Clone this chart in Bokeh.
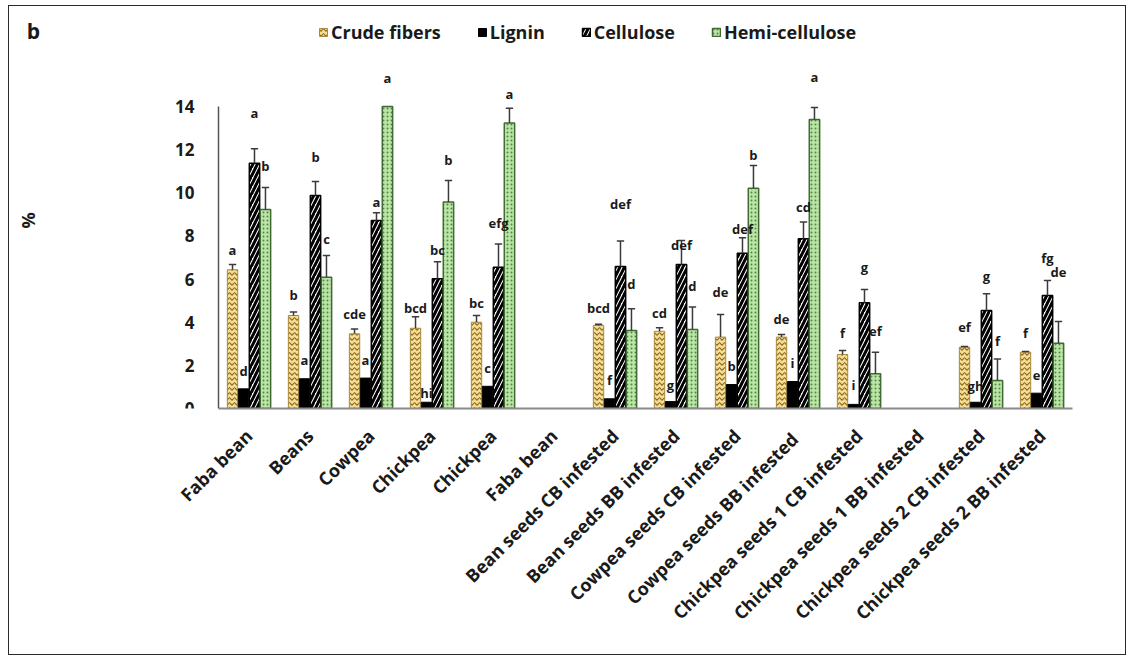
import math

from bokeh.plotting import figure
from bokeh.models import (ColumnDataSource, Range1d, FixedTicker, LabelSet, Label,
                          Legend, LegendItem)
from bokeh.core.properties import value
from bokeh.embed import file_html
from bokeh.resources import INLINE

# ---- data -----------------------------------------------------------------
categories = [
    "Faba bean", "Beans", "Cowpea", "Chickpea", "Chickpea", "Faba bean",
    "Bean seeds CB infested", "Bean seeds BB infested",
    "Cowpea seeds CB infested", "Cowpea  seeds BB infested",
    "Chickpea seeds 1 CB infested", "Chickpea seeds 1 BB infested",
    "Chickpea seeds 2 CB infested", "Chickpea seeds 2 BB infested",
]

crude_fibers = [6.43, 4.31, 3.46, 3.72, 4.00, None, 3.85, 3.58, 3.31, 3.31, 2.50, None, 2.84, 2.61]
crude_err    = [0.24, 0.16, 0.23, 0.53, 0.31, None, 0.05, 0.16, 1.05, 0.12, 0.19, None, 0.03, 0.03]

lignin       = [0.91, 1.38, 1.41, 0.29, 1.03, None, 0.45, 0.32, 1.11, 1.25, 0.19, None, 0.29, 0.71]

cellulose    = [11.37, 9.87, 8.72, 6.01, 6.55, None, 6.58, 6.68, 7.20, 7.87, 4.90, None, 4.54, 5.24]
cell_err     = [0.67, 0.65, 0.35, 0.79, 1.08, None, 1.18, 1.11, 0.71, 0.77, 0.62, None, 0.78, 0.69]

hemicellulose = [9.22, 6.09, 14.60, 9.57, 13.23, None, 3.62, 3.66, 10.21, 13.40, 1.61, None, 1.30, 3.03]
hemi_err      = [1.03, 1.00, 0.70, 1.00, 0.69, None, 1.00, 1.04, 1.06, 0.55, 1.00, None, 1.00, 1.00]

# significance letters (Duncan groups)
crude_letters  = ["a", "b", "cde", "bcd", "bc", None, "bcd", "cd", "de", "de", "f", None, "ef", "f"]
lignin_letters = ["d", "a", "a", "hi", "c", None, "f", "g", "b", "i", "i", None, "gh", "e"]
cell_letters   = ["a", "b", "a", "bc", "efg", None, "def", "def", "def", "cd", "g", None, "g", "fg"]
hemi_letters   = ["b", "c", "a", "b", "a", None, "d", "d", "b", "a", "ef", None, "f", "de"]

# heights (in %) at which the letters are written
crude_letter_y  = [7.37, 5.24, 4.40, 4.64, 4.91, None, 4.68, 4.45, 5.42, 4.17, 3.48, None, 3.76, 3.52]
lignin_letter_y = [1.76, 2.27, 2.27, 0.70, 1.90, None, 1.34, 1.07, 1.95, 2.09, 1.07, None, 1.02, 1.53]
cell_letter_y   = [13.68, 11.68, 9.55, 7.33, 8.62, None, 9.50, 7.60, 8.34, 9.36, 6.58, None, 6.12, 7.00]
hemi_letter_y   = [11.22, 7.88, 15.30, 11.54, 14.60, None, 5.75, 5.66, 11.73, 15.35, 3.57, None, 3.15, 6.35]

y_ticks = [0, 2, 4, 6, 8, 10, 12, 14]
Y_MAX = 14  # top of the value axis; taller bars are cut there

# ---- styling ----------------------------------------------------------------
FONT = "Open Sans"
INK = "#1a1a1a"
BAR_W = 0.17
OFFSETS = [-0.27, -0.09, 0.09, 0.27]
CAP = 0.06

series = [
    dict(name="Crude fibers", vals=crude_fibers, err=crude_err,
         letters=crude_letters, letter_y=crude_letter_y,
         style=dict(fill_color="#F6DD96", line_color="#A88A3A", line_width=1,
                    hatch_pattern="horizontal_wave", hatch_color="#8C6A1E",
                    hatch_scale=5, hatch_weight=1.1)),
    dict(name="Lignin", vals=lignin, err=None,
         letters=lignin_letters, letter_y=lignin_letter_y,
         style=dict(fill_color="#000000", line_color="#000000", line_width=1)),
    dict(name="Cellulose", vals=cellulose, err=cell_err,
         letters=cell_letters, letter_y=cell_letter_y,
         style=dict(fill_color="#ffffff", line_color="#000000", line_width=1.5,
                    hatch_pattern="right_diagonal_line", hatch_color="#000000",
                    hatch_scale=9, hatch_weight=3)),
    dict(name="Hemi-cellulose", vals=hemicellulose, err=hemi_err,
         letters=hemi_letters, letter_y=hemi_letter_y,
         style=dict(fill_color="#BCE3A8", line_color="#3F6B33", line_width=1.5,
                    hatch_pattern="dot", hatch_color="#4C8A3C",
                    hatch_scale=4, hatch_weight=1)),
]

# The plotting frame reaches up to the legend row and left to the "%" title,
# so that every annotation lies inside it; the axes are bounded to the data area.
PX_PER_CAT = 61.0
PX_PER_PCT = 302.0 / 14
FRAME_H = 400
LEFT_PAD = 206  # pixels between frame edge and the value axis

x_start = -0.5 - LEFT_PAD / PX_PER_CAT
p = figure(
    width=1118, height=650,
    x_range=Range1d(x_start, len(categories) - 0.5),
    y_range=Range1d(0, FRAME_H / PX_PER_PCT),
    output_backend="svg", toolbar_location=None, tools="",
    min_border_left=3, min_border_right=55, min_border_top=2, min_border_bottom=248,
    background_fill_color="white", border_fill_color="white",
)
p.margin = (5, 0, 0, 8)
p.styles = {"border": "1.5px solid #2b2b2b"}
p.outline_line_color = None
p.grid.visible = False

legend_items = []
for k, s in enumerate(series):
    idx = [i for i, v in enumerate(s["vals"]) if v is not None]
    xs = [i + OFFSETS[k] for i in idx]
    tops = [min(s["vals"][i], Y_MAX) for i in idx]
    src = ColumnDataSource(dict(x=xs, top=tops))
    r = p.vbar(x="x", top="top", bottom=0, width=BAR_W, source=src, **s["style"])
    legend_items.append(LegendItem(label=s["name"], renderers=[r]))

    if s["err"] is not None:
        eidx = [i for i in idx if s["vals"][i] + s["err"][i] <= Y_MAX]
        ex = [i + OFFSETS[k] for i in eidx]
        esrc = ColumnDataSource(dict(
            x=ex,
            top=[s["vals"][i] for i in eidx],
            hi=[s["vals"][i] + s["err"][i] for i in eidx],
            cl=[x - CAP for x in ex], cr=[x + CAP for x in ex]))
        p.segment(x0="x", y0="top", x1="x", y1="hi", source=esrc,
                  line_color="#3a3a3a", line_width=1.5)
        p.segment(x0="cl", y0="hi", x1="cr", y1="hi", source=esrc,
                  line_color="#3a3a3a", line_width=1.5)

    lidx = [i for i in idx if s["letters"][i]]
    lsrc = ColumnDataSource(dict(x=[i + OFFSETS[k] for i in lidx],
                                 y=[s["letter_y"][i] for i in lidx],
                                 t=[s["letters"][i] for i in lidx]))
    p.add_layout(LabelSet(x="x", y="y", text="t", source=lsrc,
                          text_align="center", text_baseline="middle",
                          text_font=value(FONT), text_font_style="bold",
                          text_font_size="13px", text_color=INK))

# value axis, drawn at the left edge of the first category
p.yaxis.fixed_location = -0.5
p.yaxis.bounds = (0, Y_MAX)
p.yaxis.ticker = FixedTicker(ticks=y_ticks)
p.yaxis.axis_line_color = "#555555"
p.yaxis.axis_line_width = 1.5
p.yaxis.major_tick_line_color = None
p.yaxis.minor_tick_line_color = None
p.yaxis.major_label_standoff = 18
p.yaxis.major_label_text_font = FONT
p.yaxis.major_label_text_font_style = "bold"
p.yaxis.major_label_text_font_size = "17px"
p.yaxis.major_label_text_color = INK

p.xaxis.bounds = (-0.5, len(categories) - 0.5)
p.xaxis.ticker = FixedTicker(ticks=list(range(len(categories))))
p.xaxis.major_label_overrides = {i: c for i, c in enumerate(categories)}
p.xaxis.major_label_orientation = math.pi / 4
p.xaxis.axis_line_color = "#8a8a8a"
p.xaxis.axis_line_width = 2
p.xaxis.major_tick_line_color = None
p.xaxis.minor_tick_line_color = None
p.xaxis.major_label_standoff = 18
p.xaxis.major_label_text_font = FONT
p.xaxis.major_label_text_font_style = "bold"
p.xaxis.major_label_text_font_size = "18px"
p.xaxis.major_label_text_color = INK

# y-axis title and panel letter
p.add_layout(Label(x=-0.5 - 191 / PX_PER_CAT, y=8.72, text="%", angle=math.pi / 2,
                   text_align="center", text_baseline="middle",
                   text_font=FONT, text_font_style="bold",
                   text_font_size="18px", text_color=INK))
p.add_layout(Label(x=-0.5 - 185 / PX_PER_CAT, y=17.52, text="b",
                   text_align="center", text_baseline="middle",
                   text_font=FONT, text_font_style="bold",
                   text_font_size="21px", text_color=INK))

legend = Legend(items=legend_items, orientation="horizontal", location=(306, 364),
                glyph_width=10, glyph_height=10, label_standoff=3, spacing=36,
                padding=0, margin=0, border_line_color=None, background_fill_alpha=0,
                label_text_font=FONT, label_text_font_style="bold",
                label_text_font_size="18px", label_text_color=INK)
p.add_layout(legend)

open("out.html", "w").write(file_html(p, INLINE))
